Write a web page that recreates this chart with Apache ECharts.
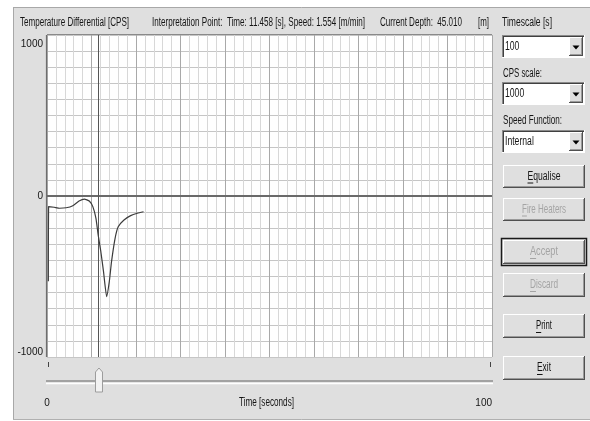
<!DOCTYPE html>
<html><head><meta charset="utf-8">
<script src="https://cdn.jsdelivr.net/npm/echarts@6/dist/echarts.min.js"></script>
<style>html,body{margin:0;padding:0;background:#fff;}#c{width:590px;height:421px;}</style>
</head><body><div id="c"></div>
<script>
// ---- data ----
const timeSec  = [0.3, 0.35, 1.6, 2.8, 4.3, 5.8, 7.2, 8.4, 9.5, 10.3, 11.0, 11.5, 12.1, 12.7, 13.4, 14.0, 14.5, 15.3, 16.0, 17.3, 18.8, 20.3, 21.7];
const tempDiff = [-530, -66, -70, -76, -73, -60, -31, -19, -31, -66, -139, -242, -346, -470, -625, -532, -408, -263, -191, -149, -122, -107, -98];
const yTickLabels = [-1000, 0, 1000];
const xTickLabels = [0, 100];
const xAxisTitle = 'Time [seconds]';
const interpTime = 11.458;
const interpSpeed = 1.554;
const currentDepth = 45.010;
const timescaleValue = '100';
const cpsScaleValue = '1000';
const speedFunctionValue = 'Internal';

const FAM = '"Liberation Sans", Arial, sans-serif';
const PANEL = '#dfdfdf';

const chart = echarts.init(document.getElementById('c'), null, {renderer: 'canvas'});
const data = timeSec.map((t, i) => [t, tempDiff[i]]);

chart.setOption({
  backgroundColor: '#ffffff',
  animation: false,
  grid: {left: 47, right: 98, top: 35, bottom: 64, show: true, backgroundColor: '#ffffff', borderWidth: 0, z: -5,
         containLabel: false, outerBoundsMode: 'none'},
  xAxis: {
    type: 'value', min: 0, max: 100, interval: 10,
    axisLine: {show: false}, axisTick: {show: false},
    splitLine: {show: true, lineStyle: {color: '#a9a9a9', width: 1}},
    minorTick: {show: false, splitNumber: 5},
    minorSplitLine: {show: true, lineStyle: {color: '#d8d8d8', width: 1}},
    axisLabel: {
      margin: 41, color: '#151515', fontFamily: FAM, fontSize: 10,
      alignMaxLabel: 'right',
      formatter: v => xTickLabels.includes(v) ? String(v) : ''
    }
  },
  yAxis: {
    type: 'value', min: -1000, max: 1000, interval: 100,
    axisLine: {show: false}, axisTick: {show: false},
    splitLine: {show: true, lineStyle: {color: '#c6c6c6', width: 1}},
    axisLabel: {
      margin: 4, color: '#151515', fontFamily: FAM, fontSize: 10,
      padding: [4, 0, 0, 0],
      verticalAlignMinLabel: 'bottom', verticalAlignMaxLabel: 'top',
      formatter: v => yTickLabels.includes(v) ? String(v) : ''
    }
  },
  series: [{
    type: 'line', data: data, showSymbol: false, smooth: 0.15,
    lineStyle: {color: '#3c3c3c', width: 1.2}, z: 5,
    markLine: {
      silent: true, symbol: 'none', label: {show: false}, animation: false,
      data: [
        {yAxis: 0, lineStyle: {color: '#6a6a6a', width: 2, type: 'solid'}},
        {xAxis: interpTime, lineStyle: {color: '#555555', width: 1, type: 'solid'}}
      ]
    }
  }]
});

// ---- window chrome (labels, combo boxes, buttons, slider) ----
const mctx = document.createElement('canvas').getContext('2d');
function measure(str, size) { mctx.font = size + 'px ' + FAM; return mctx.measureText(str).width; }
function txt(str, x, y, targetW, o = {}) {
  const size = o.size || 12;
  const w = measure(str, size);
  const sx = targetW / w;
  const els = [{
    type: 'text', x: x, y: y, scaleX: sx, z: 100,
    style: {text: str, fill: o.color || '#151515', font: size + 'px ' + FAM, align: o.align || 'left', verticalAlign: 'middle'}
  }];
  if (o.underline) {
    const left = (o.align === 'center') ? x - targetW / 2 : x;
    const cw = measure(str[0], size) * sx;
    els.push(ln(left, y + 6.5, left + cw, y + 6.5, o.color || '#151515'));
  }
  return els;
}
function ln(x1, y1, x2, y2, c, w = 1) {
  return {type: 'line', shape: {x1, y1, x2, y2}, style: {stroke: c, lineWidth: w}, z: 90};
}
function rect(x, y, w, h, fill, z = 80) {
  return {type: 'rect', shape: {x, y, width: w, height: h}, style: {fill: fill}, z: z};
}
function raised(x, y, w, h) {
  return [
    rect(x, y, w, h, PANEL),
    ln(x, y + 0.5, x + w, y + 0.5, '#ffffff'), ln(x + 0.5, y, x + 0.5, y + h, '#ffffff'),
    ln(x, y + h - 0.5, x + w, y + h - 0.5, '#505050'), ln(x + w - 0.5, y, x + w - 0.5, y + h, '#505050'),
    ln(x + 1, y + h - 1.5, x + w - 1, y + h - 1.5, '#9a9a9a'), ln(x + w - 1.5, y + 1, x + w - 1.5, y + h - 1, '#9a9a9a')
  ];
}
function combo(x, y, w, h, value) {
  let e = [
    rect(x, y, w, h, '#ffffff'),
    ln(x, y + 0.5, x + w, y + 0.5, '#8a8a8a'), ln(x + 0.5, y, x + 0.5, y + h, '#8a8a8a'),
    ln(x + 1, y + 1.5, x + w - 1, y + 1.5, '#404040'), ln(x + 1.5, y + 1, x + 1.5, y + h - 1, '#404040'),
    ln(x, y + h - 0.5, x + w, y + h - 0.5, '#ffffff'), ln(x + w - 0.5, y, x + w - 0.5, y + h, '#ffffff')
  ];
  const bx = x + w - 16, by = y + 2, bw = 14, bh = h - 4;
  e = e.concat(raised(bx, by, bw, bh));
  const cx = bx + bw / 2, cy = by + bh / 2 + 1;
  e.push({type: 'polygon', shape: {points: [[cx - 3.5, cy - 2], [cx + 3.5, cy - 2], [cx, cy + 2]]}, style: {fill: '#000'}, z: 95});
  e = e.concat(txt(value, x + 3, y + h / 2, measure(value, 12) * 0.72));
  return e;
}
function button(label, y, h, tw, disabled, isDefault) {
  const x = 503, w = 82;
  let e = [];
  if (isDefault) {
    e.push({type: 'rect', shape: {x: x - 1.5, y: y - 1.5, width: w + 3, height: h + 3}, style: {fill: 'none', stroke: '#1a1a1a', lineWidth: 1.5}, z: 92});
  }
  e = e.concat(raised(x, y, w, h));
  const col = disabled ? '#a4a4a4' : '#151515';
  e = e.concat(txt(label, x + w / 2, y + h / 2, tw, {align: 'center', color: col, underline: true}));
  return e;
}

function drawChrome() {
  const px0 = chart.convertToPixel({xAxisIndex: 0}, 0);
  const px100 = chart.convertToPixel({xAxisIndex: 0}, 100);
  const pTop = chart.convertToPixel({yAxisIndex: 0}, 1000);
  const pBot = chart.convertToPixel({yAxisIndex: 0}, -1000);
  const thumbX = chart.convertToPixel({xAxisIndex: 0}, interpTime) + 1;

  let g = [];
  // window panel
  g.push({type: 'rect', shape: {x: 13, y: 7, width: 577, height: 413}, style: {fill: PANEL}, z: -10});
  g.push({type: 'line', shape: {x1: 13, y1: 7.5, x2: 590, y2: 7.5}, style: {stroke: '#a8a8a8'}, z: -9});
  g.push({type: 'line', shape: {x1: 13.5, y1: 7, x2: 13.5, y2: 420}, style: {stroke: '#a8a8a8'}, z: -9});
  g.push({type: 'line', shape: {x1: 13, y1: 419.5, x2: 590, y2: 419.5}, style: {stroke: '#b0b0b0'}, z: -9});
  // plot sunken border
  g.push(ln(px0 - 0.5, pTop, px0 - 0.5, pBot, '#6e6e6e', 1.2));
  g.push(ln(px0, pTop - 0.5, px100, pTop - 0.5, '#8a8a8a', 1));

  // header texts
  g = g.concat(txt('Temperature Differential [CPS]', 20, 23, 109));
  g = g.concat(txt('Interpretation Point:  Time: ' + interpTime.toFixed(3) + ' [s], Speed: ' + interpSpeed.toFixed(3) + ' [m/min]', 152, 23, 213));
  g = g.concat(txt('Current Depth:  ' + currentDepth.toFixed(3), 380, 23, 82));
  g = g.concat(txt('[m]', 478, 23, 11));
  g = g.concat(txt('Timescale [s]', 502, 23, 50));

  // x axis title
  g = g.concat(txt(xAxisTitle, (px0 + px100) / 2 - 3, 403, 55, {align: 'center'}));

  // right-hand controls
  g = g.concat(combo(502, 35, 83, 23, timescaleValue));
  g = g.concat(txt('CPS scale:', 503, 74, 39));
  g = g.concat(combo(502, 82, 83, 23, cpsScaleValue));
  g = g.concat(txt('Speed Function:', 503, 121, 59));
  g = g.concat(combo(502, 130, 83, 23, speedFunctionValue));

  g = g.concat(button('Equalise', 165, 23, 33, false, false));
  g = g.concat(button('Fire Heaters', 198, 23, 44, true, false));
  g = g.concat(button('Accept', 240, 24, 28, true, true));
  g = g.concat(button('Discard', 273, 24, 28, true, false));
  g = g.concat(button('Print', 314, 24, 16, false, false));
  g = g.concat(button('Exit', 356, 24, 14, false, false));

  // time slider (trackbar)
  g.push(ln(px0 + 1.5, 362, px0 + 1.5, 367, '#444'));
  g.push(ln(px100 - 1.5, 362, px100 - 1.5, 367, '#444'));
  g.push(ln(px0 - 1, 381, px100 + 1, 381, '#a2a2a2', 2));
  g.push(ln(px0 - 1, 383.5, px100 + 1, 383.5, '#ffffff', 1.5));
  g.push({type: 'polygon', shape: {points: [[thumbX - 3.5, 392], [thumbX - 3.5, 372], [thumbX, 368], [thumbX + 3.5, 372], [thumbX + 3.5, 392]]},
          style: {fill: '#f2f2f2', stroke: '#9c9c9c', lineWidth: 1}, z: 95});
  g.push(ln(thumbX + 3, 372, thumbX + 3, 392, '#b8b8b8'));

  chart.setOption({graphic: {elements: g}});
}
drawChrome();
</script>
</body></html>
